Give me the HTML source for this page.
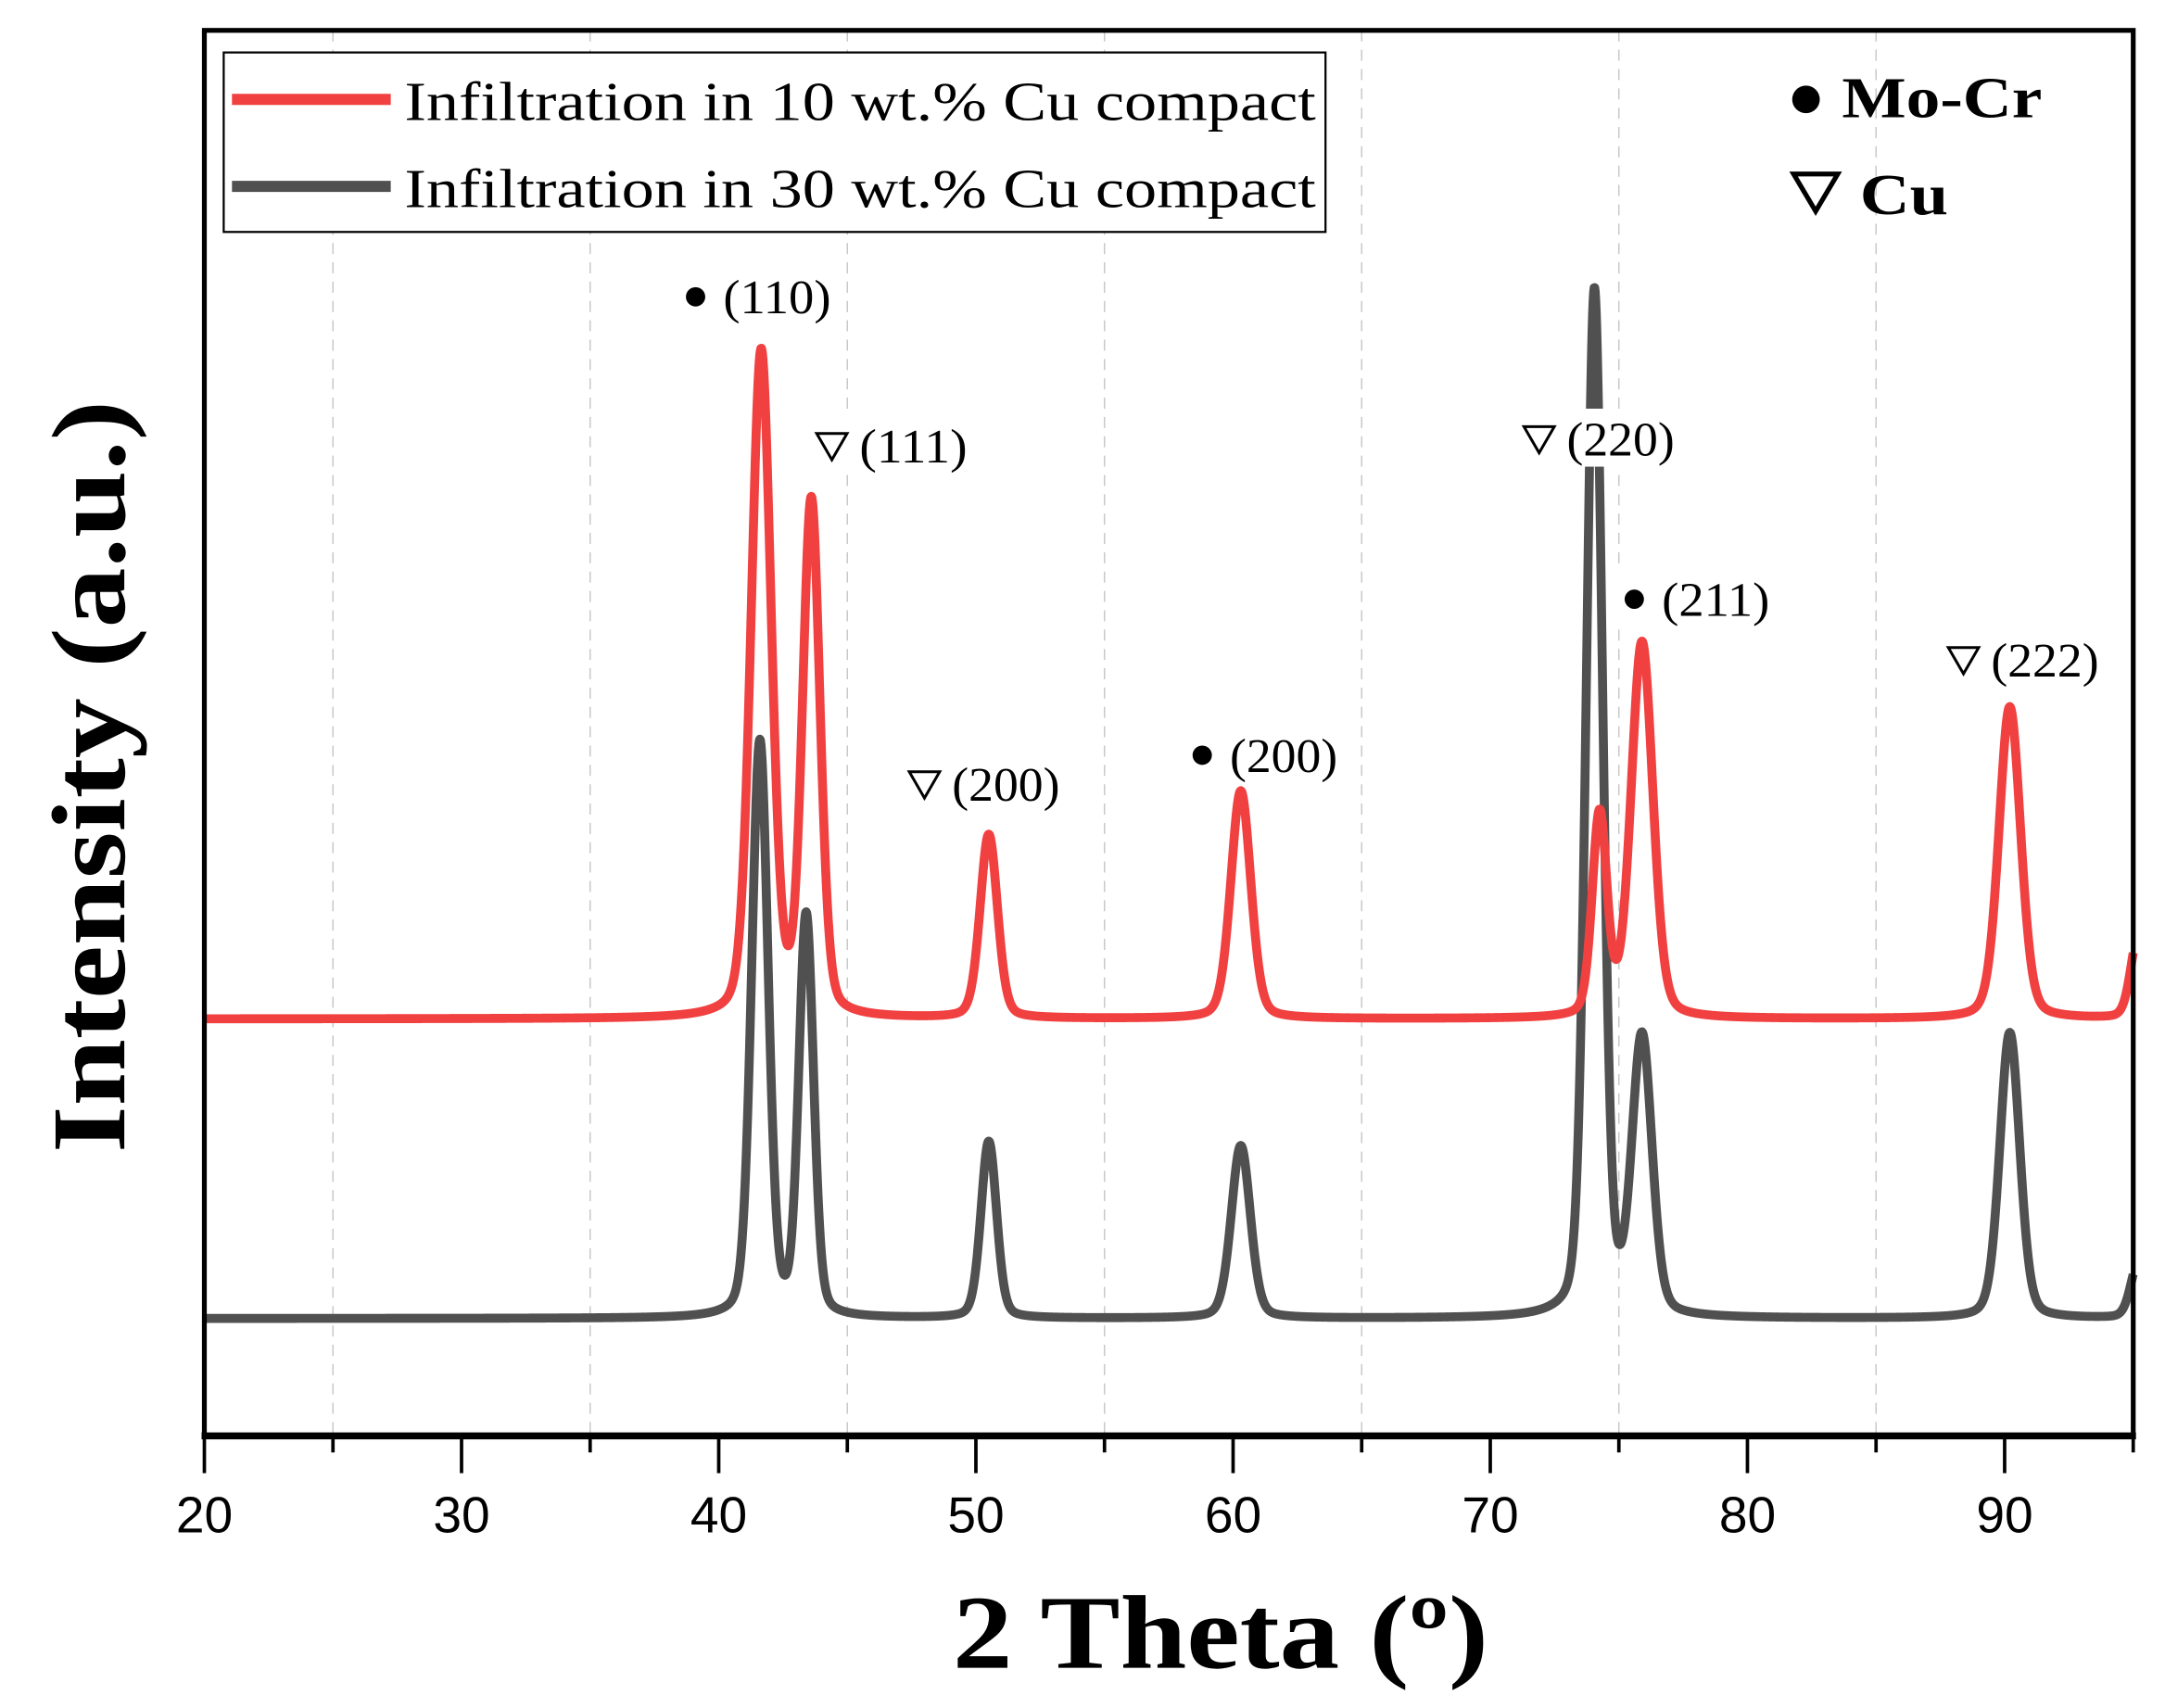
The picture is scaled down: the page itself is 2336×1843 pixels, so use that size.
<!DOCTYPE html>
<html><head><meta charset="utf-8"><style>
html,body{margin:0;padding:0;background:#fff;}
svg{display:block;}
</style></head><body>
<svg id="chart" width="2336" height="1843" viewBox="0 0 1568 1237.1" xmlns="http://www.w3.org/2000/svg">
<rect x="0" y="0" width="1568" height="1237.1" fill="#fff"/>
<g id="grid"></g>
<g id="series"></g>
<g id="labels"></g>
<g id="axes"></g>
<g>
  <rect x="162" y="38" width="798" height="130" fill="#fff" stroke="#000" stroke-width="1.5"/>
  <line x1="168" y1="72" x2="283" y2="72" stroke="#f04040" stroke-width="8"/>
  <text x="293" y="87" font-family="Liberation Serif, serif" font-size="40" textLength="660" lengthAdjust="spacingAndGlyphs">Infiltration in 10 wt.% Cu compact</text>
  <line x1="168" y1="135" x2="283" y2="135" stroke="#505050" stroke-width="8"/>
  <text x="293" y="150" font-family="Liberation Serif, serif" font-size="40" textLength="660" lengthAdjust="spacingAndGlyphs">Infiltration in 30 wt.% Cu compact</text>
</g>
<g>
  <circle cx="1308" cy="72" r="10" fill="#000"/>
  <text x="1334" y="85" font-family="Liberation Serif, serif" font-weight="bold" font-size="42" textLength="145" lengthAdjust="spacingAndGlyphs">Mo-Cr</text>
  <path d="M1299,126 L1331,126 L1315,153 Z" fill="none" stroke="#000" stroke-width="3.5"/>
  <text x="1347" y="155" font-family="Liberation Serif, serif" font-weight="bold" font-size="42" textLength="64" lengthAdjust="spacingAndGlyphs">Cu</text>
</g>
<text x="690" y="1208" font-family="Liberation Serif, serif" font-weight="bold" font-size="76" textLength="388" lengthAdjust="spacingAndGlyphs">2 Theta (º)</text>
<text transform="translate(90,835) rotate(-90)" font-family="Liberation Serif, serif" font-weight="bold" font-size="76" textLength="545" lengthAdjust="spacingAndGlyphs">Intensity (a.u.)</text>
</svg>
<script>
const xTicks = [20,30,40,50,60,70,80,90];
const xMinor = [25,35,45,55,65,75,85,95];
const redPos = [41.65,43.6,50.5,60.3,74.25,75.9,90.2,95.2];
const redHeight = [482,372,133,165,146,272,226,60];
const redWidth = [0.46,0.4,0.4,0.46,0.34,0.5,0.5,0.35];
const redBase = 302;
const grayPos = [41.6,43.4,50.5,60.3,74.05,75.9,90.2,95.2];
const grayHeight = [417,290,128,125,744,200,207,40];
const grayWidth = [0.38,0.34,0.36,0.44,0.38,0.46,0.46,0.35];
const grayBase = 85;
const labelText = ["(110)","(111)","(200)","(200)","(220)","(211)","(222)"];
const labelPhase = ["mocr","cu","cu","mocr","cu","mocr","cu"];
const labelX = [39.1,44.4,48.0,58.8,71.9,75.6,88.4];
const labelY = [825,717,472,493,722,606,562];

const X0=148,X1=1545,Y0=1040,Y1=22;
const sx = v => X0 + (v-20)/(95-20)*(X1-X0);
const sy = v => Y0 - v;
const NS='http://www.w3.org/2000/svg';
function mk(tag, attrs, parent){const e=document.createElementNS(NS,tag);for(const k in attrs)e.setAttribute(k,attrs[k]);parent.appendChild(e);return e;}

const grid=document.getElementById('grid');
[25,35,45,55,65,75,85].forEach(v=>{
  const l=mk('line',{x1:sx(v),x2:sx(v),y1:Y1,y2:Y0,stroke:'#c8c8c8','stroke-width':1,'stroke-dasharray':'8,6'},grid);
  
  
});

function profile(pos,h,w,base){
  let d='';
  for(let x=20;x<=95.001;x+=0.02){
    let y=base;
    for(let i=0;i<pos.length;i++){
      const t=(x-pos[i])/w[i];
      y+=h[i]*(0.75*Math.exp(-0.693*t*t)+0.25/(1+t*t));
    }
    d+=(d?'L':'M')+sx(x).toFixed(2)+','+sy(y).toFixed(2);
  }
  return d;
}
const ser=document.getElementById('series');
const g1=mk('path',{d:profile(grayPos,grayHeight,grayWidth,grayBase),fill:'none',stroke:'#505050','stroke-width':6.5,'stroke-linejoin':'round'},ser);


const r1=mk('path',{d:profile(redPos,redHeight,redWidth,redBase),fill:'none',stroke:'#f04040','stroke-width':6.5,'stroke-linejoin':'round'},ser);



const lab=document.getElementById('labels');
for(let i=0;i<labelText.length;i++){
  const x=sx(labelX[i]), y=sy(labelY[i]);
  const bg=mk('rect',{x:x-12,y:y-22,width:112,height:42,fill:'#fff'},lab);
  
  
  let m;
  if(labelPhase[i]==='mocr') m=mk('circle',{cx:x,cy:y,r:7,fill:'#000'},lab);
  else m=mk('path',{d:`M${x-11},${y-9}L${x+11},${y-9}L${x},${y+10}Z`,fill:'none',stroke:'#000','stroke-width':2},lab);
  
  
  const t=mk('text',{x:x+20,y:y+12,'font-family':'Liberation Serif, serif','font-size':35,textLength:78,lengthAdjust:'spacingAndGlyphs'},lab);
  t.textContent=labelText[i];
  
  
}

const ax=document.getElementById('axes');
mk('rect',{x:X0,y:Y1,width:X1-X0,height:Y0-Y1,fill:'none',stroke:'#000','stroke-width':3.5},ax);
mk('line',{x1:X0-2,x2:X1+2,y1:Y0,y2:Y0,stroke:'#000','stroke-width':5},ax);
xTicks.forEach(v=>{
  const l=mk('line',{x1:sx(v),x2:sx(v),y1:Y0,y2:Y0+27,stroke:'#000','stroke-width':2.5},ax);
  
  
  const t=mk('text',{x:sx(v),y:Y0+70,'text-anchor':'middle','font-family':'Liberation Sans, sans-serif','font-size':37},ax);
  t.textContent=v;
  
  
});
xMinor.forEach(v=>{
  const l=mk('line',{x1:sx(v),x2:sx(v),y1:Y0,y2:Y0+12,stroke:'#000','stroke-width':2.5},ax);
  
  
});
</script>
</body></html>
